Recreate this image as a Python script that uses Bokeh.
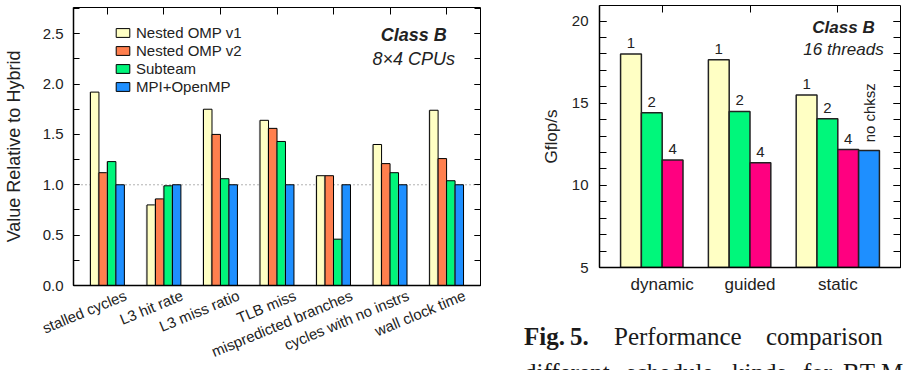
import numpy as np
from bokeh.plotting import figure
from bokeh.layouts import row, column
from bokeh.models import (Range1d, FixedTicker, LinearAxis, Span, Label, Div,
                          ColumnDataSource, Legend, LegendItem, NumeralTickFormatter)
from bokeh.core.properties import value
from bokeh.embed import file_html
from bokeh.resources import INLINE

# ---- left panel: hardware counters relative to the hybrid code ----
metrics = ["stalled cycles", "L3 hit rate", "L3 miss ratio", "TLB miss",
           "mispredicted branches", "cycles with no instrs", "wall clock time"]
series_names = ["Nested OMP v1", "Nested OMP v2", "Subteam", "MPI+OpenMP"]
nested_v1 = [1.92, 0.80, 1.75, 1.64, 1.09, 1.40, 1.74]
nested_v2 = [1.12, 0.86, 1.50, 1.56, 1.09, 1.21, 1.26]
subteam = [1.23, 0.99, 1.06, 1.43, 0.46, 1.12, 1.04]
mpi_openmp = [1.00, 1.00, 1.00, 1.00, 1.00, 1.00, 1.00]
y_ticks_rel = [0.0, 0.5, 1.0, 1.5, 2.0, 2.5]

# ---- right panel: Gflop/s per schedule kind and chunk size ----
schedules = ["dynamic", "guided", "static"]
chunk_sizes = ["1", "2", "4"]
gflops_chunk1 = [18.0, 17.65, 15.5]
gflops_chunk2 = [14.42, 14.5, 14.05]
gflops_chunk4 = [11.55, 11.38, 12.18]
nochksz_label = "no chksz"
gflops_static_nochksz = 12.12
y_ticks_gflops = [5, 10, 15, 20]

SANS = "Liberation Sans"
INK = "#222222"


def ticks_only(ax, ticks):
    """Frame-side axis that only contributes inward tick marks."""
    ax.major_label_overrides = {t: "" for t in ticks}
    ax.major_label_text_font_size = "1px"
    ax.major_label_standoff = 0
    ax.axis_line_color = None
    ax.major_tick_out = 0
    ax.minor_tick_out = 0


# ================= left figure =================
p1 = figure(width=481, height=370, x_range=Range1d(-0.6, 6.6), y_range=Range1d(0, 2.76),
            output_backend="svg", toolbar_location=None,
            min_border_left=72, min_border_right=1, min_border_top=7, min_border_bottom=85)
p1.grid.visible = False
p1.outline_line_color = "black"
p1.outline_line_width = 1

y_minor = list(np.arange(0, 2.76, 0.25))
ya = p1.yaxis[0]
ya.ticker = FixedTicker(ticks=y_ticks_rel, minor_ticks=y_minor)
ya.formatter = NumeralTickFormatter(format="0.0")
ya.major_tick_in = 6
ya.major_tick_out = 0
ya.minor_tick_in = 6
ya.minor_tick_out = 0
ya.major_label_standoff = 10
ya.major_label_text_font = SANS
ya.major_label_text_font_size = "15px"
ya.major_label_text_color = INK
ya.axis_label = "Value Relative to Hybrid"
ya.axis_label_text_font = SANS
ya.axis_label_text_font_size = "18px"
ya.axis_label_text_font_style = "normal"
ya.axis_label_text_color = INK
ya.axis_label_standoff = 16
ya.axis_line_width = 1.5

# category names hang from just right of each group centre, slanted
idx = np.arange(len(metrics))
label_pos = [float(round(i + 0.32, 3)) for i in idx]
xa = p1.xaxis[0]
xa.ticker = FixedTicker(ticks=label_pos)
xa.major_label_overrides = {t: m for t, m in zip(label_pos, metrics)}
xa.major_label_orientation = np.deg2rad(22.5)
xa.major_label_standoff = 9
xa.major_label_text_font = SANS
xa.major_label_text_font_size = "15px"
xa.major_label_text_color = INK
xa.major_tick_in = 0
xa.major_tick_out = 0
xa.minor_tick_in = 0
xa.minor_tick_out = 0
xa.axis_line_width = 1.5

top_ticks1 = [float(i) for i in idx]
top1 = LinearAxis(ticker=FixedTicker(ticks=top_ticks1))
ticks_only(top1, top_ticks1)
top1.major_tick_in = 7
top1.minor_tick_in = 0
p1.add_layout(top1, "above")

right1 = LinearAxis(ticker=FixedTicker(ticks=y_ticks_rel, minor_ticks=y_minor))
ticks_only(right1, y_ticks_rel)
right1.major_tick_in = 6
right1.minor_tick_in = 6
p1.add_layout(right1, "right")

p1.add_layout(Span(location=1.0, dimension="width", line_color="#666666",
                   line_width=1, line_dash="1 3", level="underlay"))

rel_series = [nested_v1, nested_v2, subteam, mpi_openmp]
rel_colors = ["#FFFFC4", "#FF7F4E", "#00F57A", "#1E8FFF"]
bar_w1 = 0.15
offsets1 = [-1.5, -0.5, 0.5, 1.5]
legend_items = []
for name, vals, col, off in zip(series_names, rel_series, rel_colors, offsets1):
    xs = idx + off * bar_w1
    # faint grey shadow on the left edge of each bar
    shadow = ColumnDataSource(dict(x=xs - 0.022, top=vals))
    p1.vbar(x="x", top="top", width=bar_w1, bottom=0, source=shadow,
            fill_color="#9a9a9a", fill_alpha=0.45, line_color=None)
    src = ColumnDataSource(dict(x=xs, top=vals))
    r = p1.vbar(x="x", top="top", width=bar_w1, bottom=0, source=src,
                fill_color=col, line_color="black", line_width=1)
    legend_items.append(LegendItem(label=name, renderers=[r]))

legend = Legend(items=legend_items, location=(41, 189.5), glyph_width=17, glyph_height=11,
                label_height=18, label_standoff=5, spacing=0, padding=0, margin=0,
                border_line_color=None, background_fill_alpha=0,
                label_text_font=SANS, label_text_font_size="15px", label_text_color=INK)
p1.add_layout(legend)

p1.add_layout(Label(x=5.42, y=2.483, text="Class B", text_align="center",
                    text_baseline="middle", text_font=SANS, text_font_size="18px",
                    text_font_style="bold italic", text_color=INK))
p1.add_layout(Label(x=5.42, y=2.245, text="8\u00d74 CPUs", text_align="center",
                    text_baseline="middle", text_font=SANS, text_font_size="18px",
                    text_font_style="italic", text_color=INK))

# ================= right figure =================
p2 = figure(width=422, height=352, x_range=Range1d(-0.714, 2.714), y_range=Range1d(5, 20.95),
            output_backend="svg", toolbar_location=None,
            min_border_left=118, min_border_right=3, min_border_top=5, min_border_bottom=85)
p2.grid.visible = False
p2.outline_line_color = "black"
p2.outline_line_width = 1

y2_minor = list(range(5, 21))
ya2 = p2.yaxis[0]
ya2.ticker = FixedTicker(ticks=y_ticks_gflops, minor_ticks=y2_minor)
ya2.major_tick_in = 7
ya2.major_tick_out = 0
ya2.minor_tick_in = 7
ya2.minor_tick_out = 0
ya2.major_label_standoff = 11
ya2.major_label_text_font = SANS
ya2.major_label_text_font_size = "15px"
ya2.major_label_text_color = INK
ya2.axis_label = "Gflop/s"
ya2.axis_label_text_font = SANS
ya2.axis_label_text_font_size = "17px"
ya2.axis_label_text_font_style = "normal"
ya2.axis_label_text_color = INK
ya2.axis_label_standoff = 8
ya2.axis_line_width = 1.5

sched_idx = [float(i) for i in range(len(schedules))]
xa2 = p2.xaxis[0]
xa2.ticker = FixedTicker(ticks=sched_idx)
xa2.major_label_overrides = {i: s for i, s in zip(sched_idx, schedules)}
xa2.major_tick_in = 0
xa2.major_tick_out = 0
xa2.minor_tick_in = 0
xa2.minor_tick_out = 0
xa2.major_label_standoff = 7
xa2.major_label_text_font = SANS
xa2.major_label_text_font_size = "17px"
xa2.major_label_text_color = INK
xa2.axis_line_width = 1.5

top2 = LinearAxis(ticker=FixedTicker(ticks=sched_idx))
ticks_only(top2, sched_idx)
top2.major_tick_in = 7
top2.minor_tick_in = 0
p2.add_layout(top2, "above")

right2 = LinearAxis(ticker=FixedTicker(ticks=y_ticks_gflops, minor_ticks=y2_minor))
ticks_only(right2, y_ticks_gflops)
right2.major_tick_in = 7
right2.minor_tick_in = 7
p2.add_layout(right2, "right")

bar_w2 = 0.237
chunk_series = [gflops_chunk1, gflops_chunk2, gflops_chunk4]
chunk_colors = ["#FFFFC4", "#00F77B", "#FF0080"]
offsets2 = [-1.5, -0.5, 0.5]
sidx = np.arange(len(schedules))
label_lift = 0.67  # distance from a bar top to the middle of its chunk-size label (data units)
for lab, vals, col, off in zip(chunk_sizes, chunk_series, chunk_colors, offsets2):
    src = ColumnDataSource(dict(x=sidx + off * bar_w2, top=vals,
                                ytxt=[v + label_lift for v in vals], text=[lab] * len(vals)))
    p2.vbar(x="x", top="top", width=bar_w2, bottom=5, source=src,
            fill_color=col, line_color="#222222", line_width=1.5)
    p2.text(x="x", y="ytxt", text="text", source=src,
            text_align="center", text_baseline="middle",
            text_font=value(SANS), text_font_size="15px", text_color=INK)

static_i = schedules.index("static")
nc_src = ColumnDataSource(dict(x=[static_i + 1.5 * bar_w2], top=[gflops_static_nochksz],
                               ytxt=[gflops_static_nochksz + 2.3], text=[nochksz_label]))
p2.vbar(x="x", top="top", width=bar_w2, bottom=5, source=nc_src,
        fill_color="#1E8FFF", line_color="#222222", line_width=1.5)
p2.text(x="x", y="ytxt", text="text", source=nc_src, angle=np.pi / 2,
        text_align="center", text_baseline="middle",
        text_font=value(SANS), text_font_size="15px", text_color=INK)

p2.add_layout(Label(x=2.065, y=19.62, text="Class B", text_align="center",
                    text_baseline="middle", text_font=SANS, text_font_size="17px",
                    text_font_style="bold italic", text_color=INK))
p2.add_layout(Label(x=2.065, y=18.28, text="16 threads", text_align="center",
                    text_baseline="middle", text_font=SANS, text_font_size="17px",
                    text_font_style="italic", text_color=INK))

# ---- figure caption (justified words, two lines; the second runs off the page) ----
caption_words = [
    ("<b>Fig.&thinsp;5.</b>", 38, 24),
    ("Performance", 128, 24),
    ("comparison", 280, 24),
    ("different", 38, 60),
    ("schedule", 140, 60),
    ("kinds", 246, 60),
    ("for", 317, 60),
    ("BT-MZ", 357, 60),
]
spans = "".join(
    f'<span style="position:absolute;left:{x}px;top:{y}px;white-space:nowrap;">{w}</span>'
    for w, x, y in caption_words)
caption = Div(
    text=(f'<div style="position:relative;width:422px;height:70px;overflow:hidden;'
          f'font-family:\'Liberation Serif\';font-size:25px;line-height:1;color:#1a1a1a;">'
          f'{spans}</div>'),
    width=422, height=70, styles={"margin-top": "-52px"})

layout = row(p1, column(p2, caption, spacing=0), spacing=0)
open("out.html", "w").write(file_html(layout, INLINE))
